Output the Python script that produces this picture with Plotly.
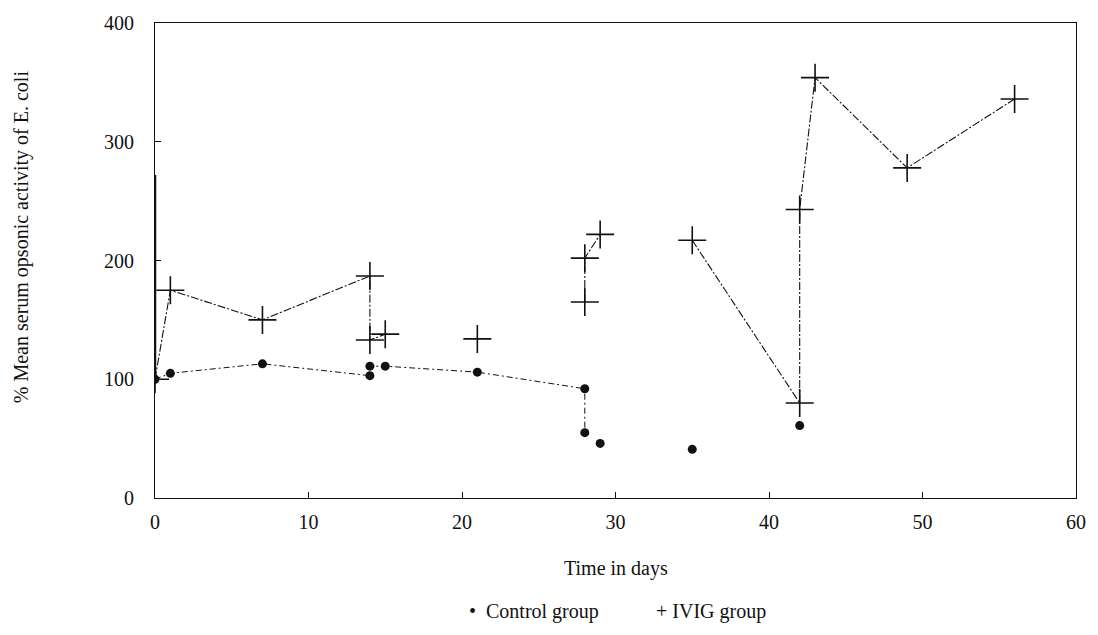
import plotly.graph_objects as go

# Control group: mean serum opsonic activity (% of baseline) by day
control_days = [0, 1, 7, 14, 14, 15, 21, 28, 28, 29, 35, 42]
control_vals = [100, 105, 113, 103, 111, 111, 106, 92, 55, 46, 41, 61]

# IVIG group: mean serum opsonic activity (% of baseline) by day
ivig_days = [0, 1, 7, 14, 14, 15, 21, 28, 28, 29, 35, 42, 42, 43, 49, 56]
ivig_vals = [100, 175, 150, 187, 133, 138, 134, 165, 202, 222, 217, 80, 243, 354, 278, 336]

# Day-0 post-infusion peak of the IVIG group (drawn as a bar on the axis)
ivig_day0_peak = 272

# Connected runs of points (index ranges, inclusive)
control_runs = [(0, 8)]
ivig_runs = [(0, 5), (7, 9), (10, 15)]

x_ticks = [0, 10, 20, 30, 40, 50, 60]
y_ticks = [0, 100, 200, 300, 400]

FONT = "Liberation Serif, Times New Roman, serif"
INK = "#111111"
FS = 20


def path(days, vals, runs):
    xs, ys = [], []
    for a, b in runs:
        xs += days[a:b + 1] + [None]
        ys += vals[a:b + 1] + [None]
    return xs, ys


fig = go.Figure()

cx, cy = path(control_days, control_vals, control_runs)
fig.add_trace(go.Scatter(x=cx, y=cy, mode="lines", showlegend=False, hoverinfo="skip",
                         line=dict(color=INK, width=1, dash="6px,3px,2px,3px")))

ix, iy = path(ivig_days, ivig_vals, ivig_runs)
fig.add_trace(go.Scatter(x=ix, y=iy, mode="lines", showlegend=False, hoverinfo="skip",
                         line=dict(color=INK, width=1.1, dash="8px,2px,2px,2px")))

fig.add_trace(go.Scatter(x=[0, 0], y=[ivig_vals[0], ivig_day0_peak], mode="lines",
                         showlegend=False, hoverinfo="skip",
                         line=dict(color=INK, width=2.5)))

fig.add_trace(go.Scatter(x=control_days, y=control_vals, mode="markers", name="Control group",
                         showlegend=False,
                         marker=dict(symbol="circle", size=9, color=INK)))

fig.add_trace(go.Scatter(x=ivig_days, y=ivig_vals, mode="markers", name="IVIG group",
                         showlegend=False,
                         marker=dict(symbol="cross-thin", size=20, color=INK,
                                     line=dict(color=INK, width=1.6))))

fig.update_layout(
    width=1098, height=635,
    margin=dict(l=155, r=21, t=17, b=137),
    plot_bgcolor="white", paper_bgcolor="white",
    font=dict(family=FONT, size=FS, color=INK),
    showlegend=False,
    xaxis=dict(range=[0, 60], tickvals=x_ticks, ticks="inside", ticklen=6,
               tickcolor=INK, showgrid=False, zeroline=False,
               showline=True, linecolor=INK, linewidth=1, mirror=True,
               ticklabelstandoff=6, tickfont=dict(size=FS)),
    yaxis=dict(range=[0, 400], tickvals=y_ticks, ticks="inside", ticklen=6,
               tickcolor=INK, showgrid=False, zeroline=False,
               showline=True, linecolor=INK, linewidth=1, mirror=True,
               ticklabelstandoff=16, tickfont=dict(size=FS)),
    annotations=[
        dict(text="Time in days", xref="paper", yref="paper", x=0.5, y=-0.12,
             xanchor="center", yanchor="top", showarrow=False,
             font=dict(family=FONT, size=FS, color=INK)),
        dict(text="% Mean serum opsonic activity of E. coli", xref="paper", yref="paper",
             x=-0.145, y=0.55, xanchor="center", yanchor="middle", textangle=-90,
             showarrow=False, font=dict(family=FONT, size=FS, color=INK)),
        # legend key
        dict(text="\u2022  Control group", xref="paper", yref="paper", x=0.339, y=-0.239,
             xanchor="left", yanchor="middle", showarrow=False,
             font=dict(family=FONT, size=FS, color=INK)),
        dict(text="+ IVIG group", xref="paper", yref="paper", x=0.542, y=-0.239,
             xanchor="left", yanchor="middle", showarrow=False,
             font=dict(family=FONT, size=FS, color=INK)),
    ],
)

fig.write_html("out.html")
